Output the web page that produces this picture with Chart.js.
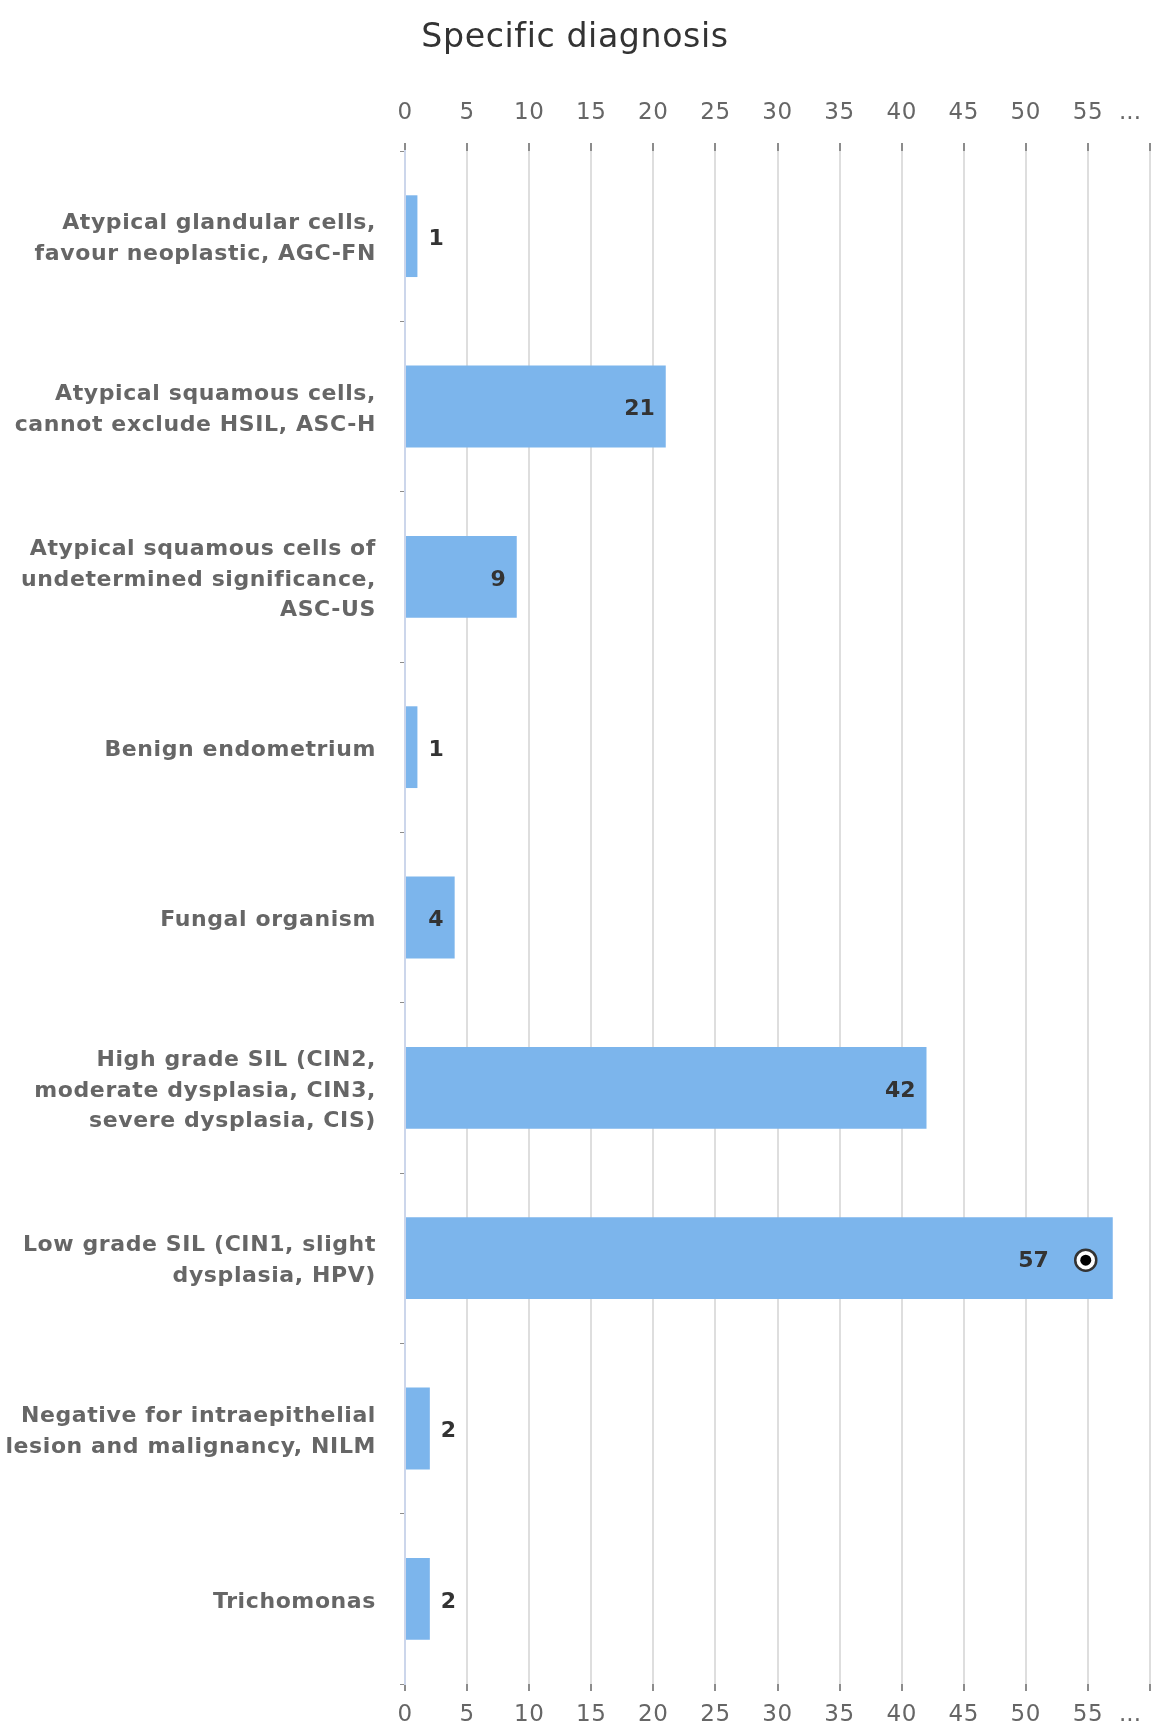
<!DOCTYPE html>
<html>
<head>
<meta charset="utf-8">
<title>Specific diagnosis</title>
<script src="https://cdn.jsdelivr.net/npm/chart.js@4.4.1/dist/chart.umd.min.js"></script>
<style>
    html, body { margin: 0; padding: 0; background: #ffffff; }
    canvas { display: block; }
</style>
</head>
<body>
<canvas id="grafico-diagnosis" width="1153" height="1729"></canvas>
<script>
const CATEGORIES = [
    ['Atypical glandular cells,', 'favour neoplastic, AGC-FN'],
    ['Atypical squamous cells,', 'cannot exclude HSIL, ASC-H'],
    ['Atypical squamous cells of', 'undetermined significance,', 'ASC-US'],
    'Benign endometrium',
    'Fungal organism',
    ['High grade SIL (CIN2,', 'moderate dysplasia, CIN3,', 'severe dysplasia, CIS)'],
    ['Low grade SIL (CIN1, slight', 'dysplasia, HPV)'],
    ['Negative for intraepithelial', 'lesion and malignancy, NILM'],
    'Trichomonas'
];
const COUNTS = [1, 21, 9, 1, 4, 42, 57, 2, 2];
const AXIS_MIN = 0;
const AXIS_MAX = 60;
const AXIS_STEP = 5;
const MARKED = [6]; // bar carrying the round marker

const FONT = '"DejaVu Sans", Verdana, sans-serif';
const TICK_FONT_SIZE = 23;
const TICK_LEN = 7;
const TOP_TICK_LEN = 8;
const TOP_PAD = 16;
const BOTTOM_PAD = 10;

// axis labels in the original are slightly letter-spaced
const spacing = {
    id: 'spacing',
    beforeDraw(chart) { chart.ctx.letterSpacing = '0.6px'; },
    beforeDatasetsDraw(chart) { chart.ctx.letterSpacing = '0px'; }
};

// value labels + marker, and the clipped "..." label at the axis end
const barLabels = {
    id: 'barLabels',
    afterDatasetsDraw(chart) {
        const ctx = chart.ctx;
        const meta = chart.getDatasetMeta(0);
        ctx.save();
        ctx.font = 'bold 22px ' + FONT;
        ctx.textBaseline = 'middle';
        ctx.fillStyle = '#333333';
        meta.data.forEach((bar, i) => {
            const text = String(COUNTS[i]);
            const w = ctx.measureText(text).width;
            const len = bar.x - bar.base;
            const y = bar.y + 3;
            let right = bar.x - 11;
            if (MARKED.includes(i)) {
                const cx = bar.x - 27, cy = bar.y + 2;
                ctx.beginPath();
                ctx.arc(cx, cy, 10.5, 0, Math.PI * 2);
                ctx.fillStyle = '#ffffff';
                ctx.fill();
                ctx.lineWidth = 2.5;
                ctx.strokeStyle = '#333333';
                ctx.stroke();
                ctx.beginPath();
                ctx.arc(cx, cy, 5.5, 0, Math.PI * 2);
                ctx.fillStyle = '#000000';
                ctx.fill();
                ctx.fillStyle = '#333333';
                right = bar.x - 64;
            }
            if (len > w + 22) {
                ctx.textAlign = 'right';
                ctx.fillText(text, right, y);
            } else {
                ctx.textAlign = 'left';
                ctx.fillText(text, bar.x + 11, y);
            }
        });
        ctx.restore();
    },
    afterDraw(chart) {
        const ctx = chart.ctx;
        const lh = TICK_FONT_SIZE * 1.2;
        const top = chart.scales.x2;
        const bottom = chart.scales.x;
        const x = bottom.getPixelForValue(AXIS_MAX) - 20;
        ctx.save();
        ctx.font = TICK_FONT_SIZE + 'px ' + FONT;
        ctx.fillStyle = '#666666';
        ctx.textAlign = 'center';
        ctx.textBaseline = 'middle';
        ctx.fillText('...', x, top.bottom - TOP_TICK_LEN - TOP_PAD - lh / 2);
        ctx.fillText('...', x, bottom.top + TICK_LEN + BOTTOM_PAD + lh / 2);
        ctx.restore();
    }
};

const tickLabel = function (value) {
    return value === AXIS_MAX ? '' : value;
};

// fixed box sizes, no extra padding from label overhang
const fixBox = (w, h) => function (scale) {
    if (w) scale.width = w;
    if (h) scale.height = h;
    scale.paddingLeft = 0;
    scale.paddingRight = 0;
    scale.paddingTop = 0;
    scale.paddingBottom = 0;
};

const CHART = document.getElementById('grafico-diagnosis');
const grafico = new Chart(CHART, {
    type: 'bar',
    data: {
        labels: CATEGORIES,
        datasets: [
            {
                label: 'Specific diagnosis',
                data: COUNTS,
                backgroundColor: '#7cb5ec',
                borderWidth: 0,
                categoryPercentage: 1,
                barPercentage: 0.48,
                xAxisID: 'x',
                yAxisID: 'y'
            }
        ]
    },
    options: {
        indexAxis: 'y',
        responsive: false,
        animation: false,
        devicePixelRatio: 1,
        layout: {
            padding: { left: 0, right: 3, top: 0, bottom: 0 }
        },
        plugins: {
            legend: { display: false },
            tooltip: { enabled: false },
            title: {
                display: true,
                text: 'Specific diagnosis',
                color: '#333333',
                font: { family: FONT, size: 33.2, weight: 'normal' },
                padding: { top: 18, bottom: 17.5 }
            }
        },
        scales: {
            x: {
                position: 'bottom',
                min: AXIS_MIN,
                max: AXIS_MAX,
                border: { display: false },
                grid: {
                    color: '#dedede',
                    lineWidth: 2,
                    tickLength: TICK_LEN,
                    tickColor: '#8c8c8c',
                    tickWidth: 2
                },
                ticks: {
                    stepSize: AXIS_STEP,
                    padding: BOTTOM_PAD,
                    color: '#666666',
                    maxRotation: 0,
                    autoSkip: false,
                    font: { family: FONT, size: TICK_FONT_SIZE },
                    callback: tickLabel
                },
                afterFit: fixBox(0, 45)
            },
            x2: {
                position: 'top',
                min: AXIS_MIN,
                max: AXIS_MAX,
                border: { display: false },
                grid: {
                    drawOnChartArea: false,
                    tickLength: TOP_TICK_LEN,
                    color: '#8c8c8c',
                    lineWidth: 2
                },
                ticks: {
                    stepSize: AXIS_STEP,
                    padding: TOP_PAD,
                    color: '#666666',
                    maxRotation: 0,
                    autoSkip: false,
                    font: { family: FONT, size: TICK_FONT_SIZE },
                    callback: tickLabel
                },
                afterFit: fixBox(0, 75.66)
            },
            y: {
                position: 'left',
                border: { display: true, color: '#ccd6eb', width: 2 },
                grid: {
                    offset: true,
                    drawOnChartArea: false,
                    tickLength: 5,
                    color: '#8c8c8c',
                    lineWidth: 1
                },
                ticks: {
                    padding: 24,
                    labelOffset: 3,
                    color: '#666666',
                    autoSkip: false,
                    font: { family: FONT, size: 22, weight: 'bold', lineHeight: 1.4 }
                },
                afterFit: fixBox(405, 0)
            }
        }
    },
    plugins: [spacing, barLabels]
});
</script>
</body>
</html>
